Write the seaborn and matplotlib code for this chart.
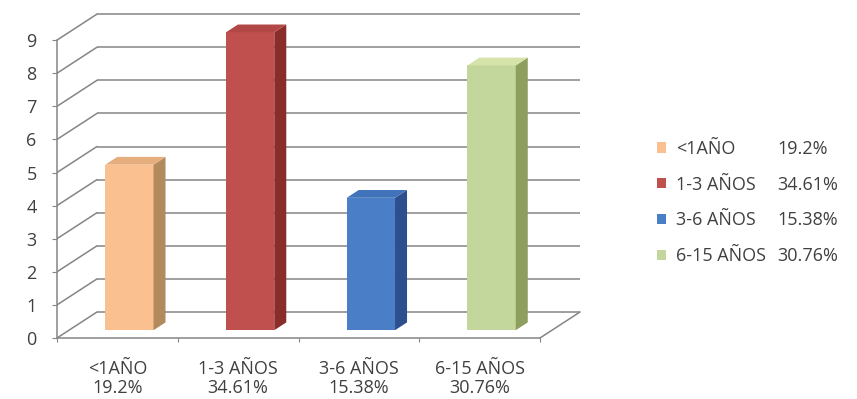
import matplotlib
matplotlib.use("Agg")
import matplotlib.pyplot as plt
from matplotlib.patches import Polygon, Patch
import pandas as pd
import seaborn as sns

# Data
categories = ["<1AÑO", "1-3 AÑOS", "3-6 AÑOS", "6-15 AÑOS"]
percents = ["19.2%", "34.61%", "15.38%", "30.76%"]
counts = [5, 9, 4, 8]
y_ticks = list(range(10))

# Bar face colours (front, side, top)
front_colors = ["#FAC08F", "#C0504D", "#4A7EC6", "#C3D69B"]
side_colors = ["#B38A5E", "#8A2C2A", "#2D4F8E", "#8E9E5E"]
top_colors = ["#E6AE7C", "#B24846", "#4173BA", "#D6E3AA"]
grid_color = "#858585"
text_color = "#404040"

sns.set_style("white")
plt.rcParams["font.family"] = ["Open Sans", "DejaVu Sans"]

W, H = 857, 399
fig = plt.figure(figsize=(W / 100, H / 100), dpi=100)

# Geometry of the pseudo-3D box (pixels per data unit)
px_x, px_y = 120.75, 33.1
y0_px = 338
ax_l, ax_r, ax_b, ax_t = 57, 600, 345, 8
ax = fig.add_axes([ax_l / W, 1 - ax_b / H, (ax_r - ax_l) / W, (ax_b - ax_t) / H])

depth_dx = 40 / px_x      # full box depth, horizontal
depth_dy = 26 / px_y      # full box depth, vertical
bar_front = 0.3           # bar front face, fraction of depth
bar_back = 0.6            # bar back face, fraction of depth

df = pd.DataFrame({"grupo": categories, "n": counts})
sns.barplot(data=df, x="grupo", y="n", hue="grupo", palette=front_colors,
            width=0.40, saturation=1, legend=False, ax=ax,
            edgecolor="none", linewidth=0, zorder=3)

# Push the bar fronts into the box and add side / top faces
fd = bar_back - bar_front
for p, sc, tc in zip(ax.patches, side_colors, top_colors):
    p.set_x(p.get_x() + bar_front * depth_dx)
    p.set_y(p.get_y() + bar_front * depth_dy)
    x, b, w, h = p.get_x(), p.get_y(), p.get_width(), p.get_height()
    ox, oy = fd * depth_dx, fd * depth_dy
    side = Polygon([(x + w, b), (x + w + ox, b + oy), (x + w + ox, b + h + oy), (x + w, b + h)],
                   closed=True, facecolor=sc, edgecolor="none", zorder=3)
    top = Polygon([(x, b + h), (x + w, b + h), (x + w + ox, b + h + oy), (x + ox, b + h + oy)],
                  closed=True, facecolor=tc, edgecolor="none", zorder=3)
    ax.add_patch(side)
    ax.add_patch(top)

# Back wall gridlines and left wall diagonals
x_left, x_right = -0.5, 3.5
for v in y_ticks:
    ax.plot([x_left + depth_dx, x_right + depth_dx], [v + depth_dy, v + depth_dy],
            color=grid_color, lw=1.1, zorder=1, solid_capstyle="butt")
    ax.plot([x_left, x_left + depth_dx], [v, v + depth_dy],
            color=grid_color, lw=1.1, zorder=1)
# Floor right edge
ax.plot([x_right, x_right + depth_dx], [0, depth_dy], color=grid_color, lw=1.1, zorder=1)

ax.set_xlim(-0.5, -0.5 + (ax_r - ax_l) / px_x)
ax.set_ylim(-(ax_b - y0_px) / px_y, (y0_px - ax_t) / px_y)

# Axes, ticks and labels
for s in ["top", "right"]:
    ax.spines[s].set_visible(False)
ax.spines["left"].set_bounds(0, 9)
ax.spines["bottom"].set_position(("data", 0))
ax.spines["bottom"].set_bounds(x_left, x_right)
for s in ["left", "bottom"]:
    ax.spines[s].set_color(grid_color)
    ax.spines[s].set_linewidth(1.1)

ax.set_yticks(y_ticks)
ax.set_yticklabels([str(t) for t in y_ticks])
ax.tick_params(axis="y", length=3.6, width=0.8, color=grid_color, pad=11,
               labelsize=13, labelcolor=text_color, left=True)

ax.set_xticks(range(len(categories)))
ax.set_xticklabels([f"{c}\n{p}" for c, p in zip(categories, percents)],
                   fontsize=13, color=text_color, linespacing=1.12)
ax.set_xticks([x_left + i for i in range(5)], minor=True)
ax.tick_params(axis="x", which="major", length=0, pad=15.5)
ax.tick_params(axis="x", which="minor", length=3, width=0.8, color=grid_color,
               bottom=True, direction="out")
ax.set_xlabel("")
ax.set_ylabel("")
ax.set_facecolor("none")

# Legend
handles = [Patch(facecolor=c, edgecolor="none") for c in front_colors]
leg = fig.legend(handles, categories, loc="upper left",
                 bbox_to_anchor=(648 / W, 1 - 131 / H), frameon=False,
                 fontsize=13, handlelength=0.5, handleheight=0.5,
                 handletextpad=0.55, labelspacing=0.98, borderpad=0)
for t in leg.get_texts():
    t.set_color(text_color)

fig.canvas.draw()
for t, pct in zip(leg.get_texts(), percents):
    bb = t.get_window_extent()
    fig.text(777 / W, (bb.y0 + bb.y1) / 2 / H, pct, va="center", ha="left",
             fontsize=13, color=text_color)

fig.savefig("out.png", dpi=100)
